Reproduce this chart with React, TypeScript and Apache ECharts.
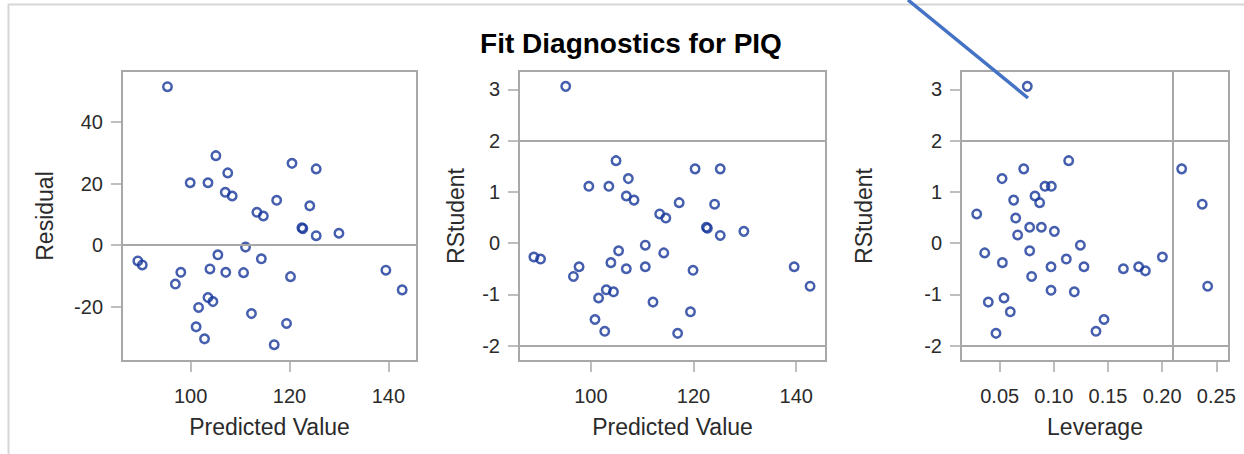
import React, { useEffect, useRef } from "react";
import * as echarts from "echarts";

// Panel 1: Residual vs Predicted Value
const residualPredicted = [95.3, 105.1, 120.5, 125.4, 107.5, 99.9, 103.5, 107.0, 108.4, 117.4, 124.1, 113.4, 114.7, 122.5, 122.7, 125.4, 130.0, 111.1, 89.3, 90.2, 105.5, 114.3, 98.0, 103.9, 107.1, 110.7, 120.2, 139.5, 142.8, 96.9, 103.5, 104.5, 101.6, 112.3, 119.4, 101.1, 102.8, 116.9];
const residualValues = [51.5, 29.1, 26.6, 24.8, 23.5, 20.3, 20.3, 17.2, 16.0, 14.6, 12.8, 10.7, 9.5, 5.7, 5.4, 3.1, 3.9, -0.6, -5.1, -6.4, -3.1, -4.4, -8.8, -7.7, -8.8, -8.9, -10.2, -8.1, -14.5, -12.6, -17.0, -18.3, -20.2, -22.2, -25.4, -26.5, -30.4, -32.3];

// Panel 2: RStudent vs Predicted Value
const rstudentPredicted = [95.1, 104.9, 120.3, 125.2, 107.3, 99.6, 103.5, 106.9, 108.4, 117.2, 124.1, 113.4, 114.6, 122.5, 122.7, 125.2, 129.8, 110.6, 88.9, 90.2, 105.4, 114.2, 97.7, 103.9, 106.9, 110.6, 119.9, 139.6, 142.7, 96.6, 103.0, 104.4, 101.5, 112.1, 119.4, 100.8, 102.7, 116.9];
const rstudentValues = [3.06, 1.61, 1.45, 1.45, 1.26, 1.11, 1.11, 0.92, 0.84, 0.79, 0.76, 0.57, 0.49, 0.31, 0.29, 0.15, 0.23, -0.04, -0.27, -0.31, -0.15, -0.19, -0.46, -0.38, -0.5, -0.46, -0.53, -0.46, -0.84, -0.65, -0.91, -0.95, -1.07, -1.15, -1.34, -1.49, -1.72, -1.76];

// Panel 3: RStudent vs Leverage
const leverageValues = [0.0755, 0.1137, 0.218, 0.0722, 0.0522, 0.0918, 0.0977, 0.237, 0.0629, 0.0826, 0.0869, 0.0288, 0.0648, 0.0777, 0.0885, 0.1005, 0.0666, 0.1245, 0.0362, 0.0777, 0.0525, 0.1115, 0.0974, 0.1278, 0.1642, 0.1783, 0.1845, 0.2002, 0.0795, 0.242, 0.0974, 0.1189, 0.0395, 0.054, 0.0598, 0.1463, 0.1389, 0.0466];
const leverageRstudent = [3.06, 1.61, 1.45, 1.45, 1.26, 1.11, 1.11, 0.76, 0.84, 0.92, 0.79, 0.57, 0.49, 0.31, 0.31, 0.23, 0.16, -0.04, -0.19, -0.15, -0.38, -0.31, -0.46, -0.46, -0.5, -0.46, -0.54, -0.27, -0.65, -0.84, -0.92, -0.95, -1.15, -1.07, -1.34, -1.49, -1.72, -1.76];

const predictedTicks = [100, 120, 140];
const residualTicks = [-20, 0, 20, 40];
const rstudentTicks = [-2, -1, 0, 1, 2, 3];
const leverageTicks = [0.05, 0.1, 0.15, 0.2, 0.25];
const leverageCutoff = 0.2105;

const FONT = "'Liberation Sans', Arial, sans-serif";
const GRAY = "#a8a8a8";
const TEXT = "#2b2b2b";
const MARK = "#17379a";

function zip(a: number[], b: number[]) {
  return a.map((v, i) => [v, b[i]]);
}

export default function App() {
  const ref = useRef<HTMLDivElement>(null);
  useEffect(() => {
    if (!ref.current) return;
    const chart = echarts.init(ref.current, undefined, { renderer: "svg" });
    const grids = [
      { left: 122, top: 71, width: 295, height: 290 },
      { left: 519, top: 71, width: 307, height: 290 },
      { left: 961, top: 71, width: 268, height: 290 },
    ].map((g) => ({ ...g, show: true, borderColor: GRAY, borderWidth: 2, backgroundColor: "transparent" }));

    const xAxisBase = (idx: number, min: number, max: number, ticks: number[], name: string, fmt?: (v: number) => string) => ({
      type: "value",
      gridIndex: idx,
      min,
      max,
      axisLine: { show: false, onZero: false },
      splitLine: { show: false },
      axisTick: { show: true, length: 11, customValues: ticks, lineStyle: { color: GRAY, width: 1.5 } },
      axisLabel: {
        customValues: ticks,
        fontSize: 20,
        fontFamily: FONT,
        color: TEXT,
        margin: 25,
        formatter: fmt ? (v: number) => fmt(v) : undefined,
      },
      name,
      nameLocation: "middle",
      nameGap: 54,
      nameTextStyle: { fontSize: 23, fontFamily: FONT, color: TEXT },
    });
    const yAxisBase = (idx: number, min: number, max: number, ticks: number[], name: string, gap: number) => ({
      type: "value",
      gridIndex: idx,
      min,
      max,
      axisLine: { show: false, onZero: false },
      splitLine: { show: false },
      axisTick: { show: true, length: 11, customValues: ticks, lineStyle: { color: GRAY, width: 1.5 } },
      axisLabel: { customValues: ticks, fontSize: 20, fontFamily: FONT, color: TEXT, margin: 19 },
      name,
      nameLocation: "middle",
      nameGap: gap,
      nameTextStyle: { fontSize: 23, fontFamily: FONT, color: TEXT },
    });

    const refLine = (data: any[]) => ({
      silent: true,
      symbol: "none",
      label: { show: false },
      lineStyle: { color: GRAY, width: 2, type: "solid" },
      data,
    });

    const scatter = (idx: number, data: number[][], marks: any[]) => ({
      type: "scatter",
      xAxisIndex: idx,
      yAxisIndex: idx,
      data,
      symbol: "circle",
      symbolSize: 8.5,
      itemStyle: { color: "rgba(255,255,255,0)", borderColor: MARK, borderWidth: 2.5 },
      markLine: refLine(marks),
      z: 3,
    });

    chart.setOption({
      animation: false,
      backgroundColor: "#ffffff",
      grid: grids,
      xAxis: [
        xAxisBase(0, 86.1, 145.8, predictedTicks, "Predicted Value"),
        xAxisBase(1, 86.0, 145.8, predictedTicks, "Predicted Value"),
        xAxisBase(2, 0.0143, 0.2617, leverageTicks, "Leverage", (v) => v.toFixed(2)),
      ],
      yAxis: [
        yAxisBase(0, -37.6, 56.6, residualTicks, "Residual", 66),
        yAxisBase(1, -2.3, 3.36, rstudentTicks, "RStudent", 52),
        yAxisBase(2, -2.3, 3.36, rstudentTicks, "RStudent", 86),
      ],
      series: [
        scatter(0, zip(residualPredicted, residualValues), [{ yAxis: 0 }]),
        scatter(1, zip(rstudentPredicted, rstudentValues), [{ yAxis: 2 }, { yAxis: -2 }]),
        scatter(2, zip(leverageValues, leverageRstudent), [{ yAxis: 2 }, { yAxis: -2 }, { xAxis: leverageCutoff }]),
      ],
      graphic: [
        {
          type: "polyline",
          shape: { points: [[8.5, 454], [8.5, 4.5], [1244, 4.5]] },
          style: { stroke: "#d6d6d6", lineWidth: 2, fill: "none" },
          silent: true,
        },
        {
          type: "text",
          x: 631,
          y: 43,
          style: {
            text: "Fit Diagnostics for PIQ",
            fontSize: 28,
            fontWeight: "bold",
            fontFamily: FONT,
            fill: "#000000",
            textAlign: "center",
            textVerticalAlign: "middle",
          },
        },
        {
          type: "line",
          shape: { x1: 908, y1: 0, x2: 1028, y2: 98 },
          style: { stroke: "#4472c4", lineWidth: 3.5 },
          z: 100,
          silent: true,
        },
      ],
    });
    return () => chart.dispose();
  }, []);
  return (
    <div
      ref={ref}
      style={{ position: "fixed", left: 0, top: 0, width: 1244, height: 454 }}
    />
  );
}
